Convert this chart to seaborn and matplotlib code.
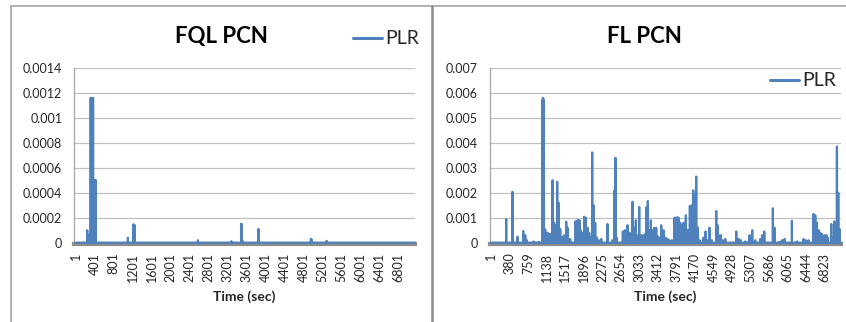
import numpy as np
import pandas as pd
import matplotlib.pyplot as plt
import seaborn as sns
from matplotlib.lines import Line2D

# 数据: 每个面板的采样点数与 PLR 尖峰 (其余时刻 PLR = 0)
n_points = 7157

fql_spike_t = [239, 281, 312, 322, 332, 342, 352, 362, 372, 382, 392, 402, 412, 420,
               1098, 1212, 1220, 1228, 1238, 2576, 3280, 3488, 3494, 3510,
               3850, 3856, 4961, 4968, 5292]
fql_spike_v = [0.0001, 0.00006, 0.00116, 0.00115, 0.00116, 0.00114, 0.00115, 0.00116,
               0.0005, 0.0005, 0.00049, 0.0005, 0.0005, 0.0005,
               0.00004, 0.000145, 0.00014, 0.000145, 0.00014, 0.00002, 0.000012,
               0.000152, 0.00015, 0.00002, 0.00011, 0.000105, 0.00003, 0.00003, 0.000015]

fl_spike_t = [308, 437, 540, 656, 697, 731, 867, 970,
              1051, 1058, 1065, 1072, 1080, 1106, 1154, 1208, 1256, 1290, 1317, 1351, 1379,
              1413, 1467, 1501, 1536, 1563, 1617, 1727, 1754, 1781, 1808, 1836, 1870, 1904,
              1938, 1972, 2006, 2033, 2067, 2095, 2129, 2163, 2204, 2252, 2381, 2477, 2525,
              2545, 2572, 2695, 2736, 2791, 2831, 2866, 2893, 2927, 2961, 2995, 3029, 3077,
              3118, 3152, 3179, 3206, 3234, 3268, 3302, 3336, 3377, 3411, 3445, 3479, 3527,
              3568, 3609, 3650, 3698, 3752, 3780, 3807, 3834, 3868, 3902, 3936, 3963, 3984,
              4011, 4038, 4066, 4100, 4134, 4161, 4195, 4230, 4264, 4345, 4386, 4427, 4468,
              4516, 4605, 4632, 4659, 4700, 4741, 4789, 5014, 5061, 5109, 5198, 5287, 5341,
              5402, 5505, 5546, 5587, 5764, 5798, 5900, 5948, 6003, 6153, 6255, 6392, 6440,
              6494, 6596, 6630, 6665, 6699, 6733, 6767, 6815, 6856, 6890, 6958, 6992, 7019,
              7074, 7101, 7128]
fl_spike_v = [0.00095, 0.00204, 0.00024, 0.00047, 0.0003, 0.0001, 0.00005, 0.00003,
              0.0057, 0.0058, 0.0058, 0.0057, 0.0056, 0.00053, 0.0004, 0.00035, 0.0025, 0.0008,
              0.0007, 0.00244, 0.0016, 0.00055, 0.00025, 0.0003, 0.00084, 0.0006, 0.00015,
              0.00085, 0.00088, 0.0009, 0.0009, 0.0005, 0.0004, 0.00104, 0.001, 0.0006, 0.0004,
              0.0002, 0.00362, 0.0015, 0.0008, 0.0002, 0.0001, 0.00015, 0.00075, 0.0001,
              0.0021, 0.0034, 0.0002, 0.00045, 0.0005, 0.0007, 0.0004, 0.0002, 0.00164,
              0.0006, 0.0009, 0.0003, 0.00143, 0.0003, 0.0003, 0.00035, 0.00142, 0.00167,
              0.0005, 0.0009, 0.0005, 0.0006, 0.0006, 0.00025, 0.0002, 0.0007, 0.0005, 0.0002,
              0.00015, 0.0001, 0.0001, 0.001, 0.001, 0.00102, 0.001, 0.0008, 0.0007, 0.0008,
              0.0007, 0.0011, 0.0005, 0.0005, 0.00147, 0.0015, 0.0021, 0.0019, 0.00265,
              0.0006, 0.0001, 0.0002, 0.00045, 0.0001, 0.0006, 0.0001, 0.00127, 0.0007,
              0.0003, 0.0003, 0.0001, 0.00015, 0.00045, 0.00015, 0.0001, 0.00005, 0.0003,
              0.0005, 0.0001, 0.00015, 0.0003, 0.00045, 0.00138, 0.0006, 0.00003, 0.0001,
              0.00015, 0.00088, 0.00005, 0.00015, 0.0001, 0.0001, 0.00115, 0.0011, 0.0008,
              0.0005, 0.0004, 0.00035, 0.0003, 0.0003, 0.0002, 0.00075, 0.0002, 0.00085,
              0.00385, 0.002, 0.00055]

fql_xticks = list(range(1, 7157, 400))
fl_xticks = list(range(1, 7157, 379))
fql_yticks = [0, 0.0002, 0.0004, 0.0006, 0.0008, 0.001, 0.0012, 0.0014]
fql_ylabels = ['0', '0.0002', '0.0004', '0.0006', '0.0008', '0.001', '0.0012', '0.0014']
fl_yticks = [0, 0.001, 0.002, 0.003, 0.004, 0.005, 0.006, 0.007]
fl_ylabels = ['0', '0.001', '0.002', '0.003', '0.004', '0.005', '0.006', '0.007']


def build_series(spike_t, spike_v):
    plr = np.zeros(n_points)
    plr[np.array(spike_t) - 1] = spike_v
    return pd.DataFrame({'Time': np.arange(1, n_points + 1), 'PLR': plr})


sns.set_style('white')
plt.rcParams['font.family'] = ['Lato', 'DejaVu Sans']

W, H = 846, 322
fig = plt.figure(figsize=(W / 100, H / 100), dpi=100)

blue = '#4F81BD'
panels = [
    # (数据, 轴位置 px, xlim, 刻度, 标题, 标题中心 x, 图例位置, 轴标签中心 x)
    (build_series(fql_spike_t, fql_spike_v), (74, 415), (-40, 7157), fql_xticks,
     fql_yticks, fql_ylabels, 'FQL PCN', 221, (353, 39), 244),
    (build_series(fl_spike_t, fl_spike_v), (489.5, 841), (-33, 7157), fl_xticks,
     fl_yticks, fl_ylabels, 'FL PCN', 644, (770, 81), 665),
]

top_px, bot_px = 68, 242.7
for df, (x0, x1), xlim, xt, yt, yl, title, tx, (lx, ly), labx in panels:
    ax = fig.add_axes([x0 / W, 1 - bot_px / H, (x1 - x0) / W, (bot_px - top_px) / H])
    sns.lineplot(data=df, x='Time', y='PLR', ax=ax, color=blue, lw=1.6,
                 estimator=None, label='PLR', clip_on=False, zorder=3)
    ax.set_xlim(*xlim)
    ax.set_ylim(yt[0], yt[-1])
    ax.set_yticks(yt)
    ax.set_yticklabels(yl)
    ax.set_xticks(xt)
    ax.set_xticklabels([str(v) for v in xt])
    ax.set_xlabel('')
    ax.set_ylabel('')
    ax.grid(axis='y', color='#C0C0C0', lw=0.9)
    ax.set_axisbelow(True)
    for s in ['top', 'right']:
        ax.spines[s].set_visible(False)
    ax.spines['left'].set_color('#A6A6A6')
    ax.spines['left'].set_linewidth(0.9)
    ax.spines['bottom'].set_color('#8C8C8C')
    ax.spines['bottom'].set_linewidth(3)
    ax.spines['bottom'].set_position(('outward', 1.2))
    ax.tick_params(axis='y', length=3, width=0.9, color='#A6A6A6', pad=5.5,
                   labelsize=9, labelcolor='#262626')
    ax.tick_params(axis='x', length=0, pad=6, labelsize=9, labelcolor='#262626',
                   labelrotation=90)
    ax.legend(loc='center left', bbox_to_anchor=(lx / W, 1 - ly / H),
              bbox_transform=fig.transFigure, frameon=False, fontsize=14,
              handlelength=1.5, handletextpad=0.15, borderpad=0, borderaxespad=0)
    for h in ax.get_legend().get_lines():
        h.set_linewidth(2.2)
    fig.text(tx / W, 1 - 43 / H, title, ha='center', va='baseline',
             fontsize=16, fontweight='bold', color='black')
    fig.text(labx / W, 1 - 297 / H, 'Time (sec)', ha='center', va='center',
             fontsize=10, fontweight='bold', color='#262626')

# 图表区边框
fig.add_artist(Line2D([11 / W, 11 / W], [0, 1 - 5.7 / H], transform=fig.transFigure,
                      color='#A6A6A6', lw=1.2))
fig.add_artist(Line2D([11 / W, 1], [1 - 5.7 / H, 1 - 5.7 / H], transform=fig.transFigure,
                      color='#A6A6A6', lw=1.2))
fig.add_artist(Line2D([432 / W, 432 / W], [0, 1 - 5.7 / H], transform=fig.transFigure,
                      color='#8C8C8C', lw=1.8))

fig.savefig('out.png', dpi=100)
